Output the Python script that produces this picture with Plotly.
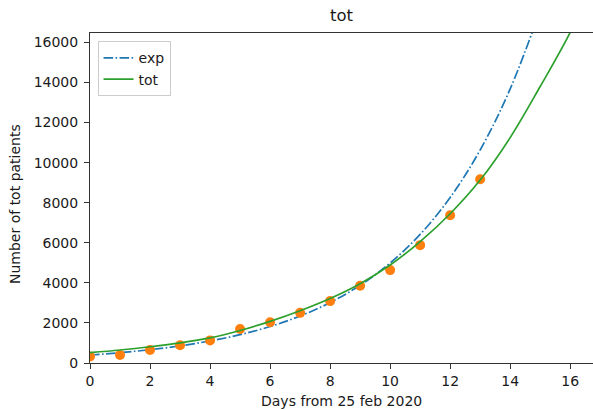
import plotly.graph_objects as go

# observed totals (days from 25 feb 2020)
days_obs = [0, 1, 2, 3, 4, 5, 6, 7, 8, 9, 10, 11, 12, 13]
tot_obs = [322, 400, 650, 888, 1128, 1694, 2036, 2502, 3089, 3858, 4636, 5883, 7375, 9172]

# exponential fit curve
days_exp = [0, 1, 2, 3, 4, 5, 6, 7, 8, 9, 10, 11, 12, 13, 14, 15]
exp_curve = [400, 515, 665, 855, 1100, 1415, 1820, 2345, 3015, 3880, 4990, 6420, 8260, 10630, 13680, 17600]

# "tot" fit curve
days_tot = [0, 1, 2, 3, 4, 5, 6, 7, 8, 9, 10, 11, 12, 13, 14, 15, 16, 17]
tot_curve = [520, 650, 810, 1000, 1250, 1620, 2080, 2610, 3220, 3960, 4890, 6060, 7450, 9130, 11250, 13800, 16500, 19800]

x_ticks = [0, 2, 4, 6, 8, 10, 12, 14, 16]
y_ticks = [0, 2000, 4000, 6000, 8000, 10000, 12000, 14000, 16000]

FONT = "DejaVu Sans"
TXT = "#1a1a1a"

fig = go.Figure()
fig.add_trace(go.Scatter(
    x=days_exp, y=exp_curve, mode="lines", name="exp",
    line=dict(color="#1f77b4", width=1.7, dash="9.6px,2.4px,1.6px,2.4px", shape="spline"),
))
fig.add_trace(go.Scatter(
    x=days_obs, y=tot_obs, mode="markers", showlegend=False,
    marker=dict(color="#ff7f0e", size=10, line=dict(width=0)),
))
fig.add_trace(go.Scatter(
    x=days_tot, y=tot_curve, mode="lines", name="tot",
    line=dict(color="#2ca02c", width=1.7, shape="spline"),
))

fig.update_layout(
    width=593, height=410,
    margin=dict(l=90, r=0, t=33, b=47),
    paper_bgcolor="white", plot_bgcolor="white",
    font=dict(family=FONT, size=14, color=TXT),
    showlegend=True,
    legend=dict(
        x=0.015, y=0.975, xanchor="left", yanchor="top",
        bgcolor="rgba(255,255,255,0.8)", bordercolor="#cccccc", borderwidth=1,
        font=dict(family=FONT, size=14, color=TXT),
        itemwidth=30, tracegroupgap=2,
    ),
    xaxis=dict(
        range=[0, 16.76], tickvals=x_ticks, ticktext=[str(v) for v in x_ticks],
        showgrid=False, zeroline=False,
        showline=True, linecolor="#333333", linewidth=1, mirror=True,
        ticks="outside", ticklen=5, tickcolor="#333333", tickwidth=1,
        tickfont=dict(family=FONT, size=14, color=TXT),
    ),
    yaxis=dict(
        range=[0, 16470], tickvals=y_ticks, ticktext=[str(v) for v in y_ticks],
        showgrid=False, zeroline=False,
        showline=True, linecolor="#333333", linewidth=1, mirror=False,
        ticks="outside", ticklen=5, tickcolor="#333333", tickwidth=1,
        tickfont=dict(family=FONT, size=14, color=TXT),
        ticklabelstandoff=3,
    ),
    annotations=[
        dict(text="tot", xref="paper", yref="paper", x=0.5, y=1, yshift=18,
             xanchor="center", yanchor="middle", showarrow=False,
             font=dict(family=FONT, size=16.5, color=TXT)),
        dict(text="Days from 25 feb 2020", xref="paper", yref="paper", x=0.5, y=0,
             yshift=-38, xanchor="center", yanchor="middle", showarrow=False,
             font=dict(family=FONT, size=14, color=TXT)),
        dict(text="Number of tot patients", xref="paper", yref="paper", x=0, y=0.5,
             xshift=-75, yshift=-6, xanchor="center", yanchor="middle", textangle=-90,
             showarrow=False, font=dict(family=FONT, size=14, color=TXT)),
    ],
)

fig.write_html(
    "out.html",
    config={"displayModeBar": False},
    post_script="document.body.style.margin='0';document.body.style.overflow='hidden';",
)
